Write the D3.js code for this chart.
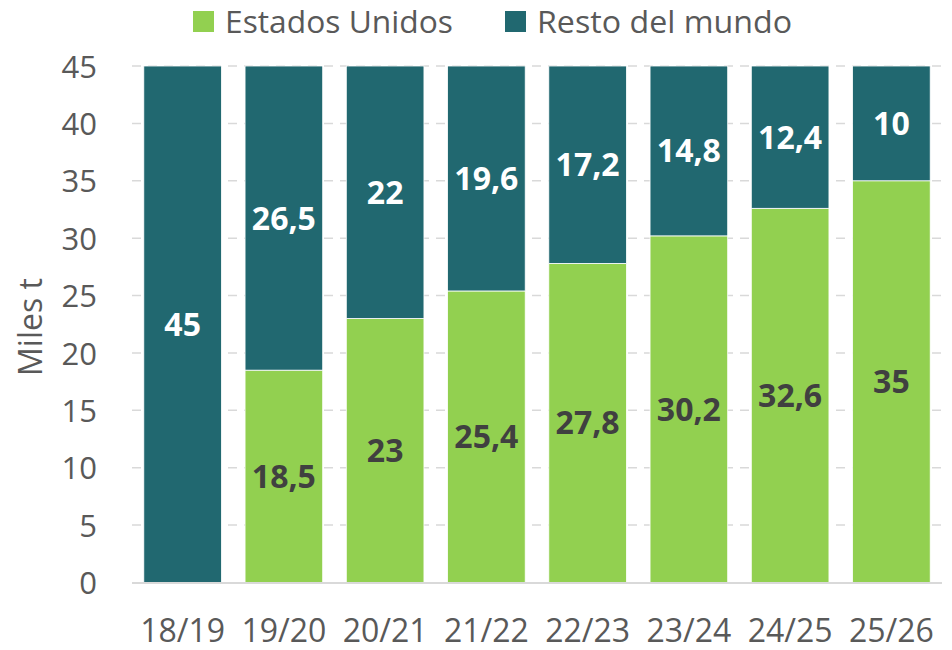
<!DOCTYPE html>
<html>
<head>
<meta charset="utf-8">
<script src="https://cdn.jsdelivr.net/npm/d3@7"></script>
<style>
  html, body { margin: 0; padding: 0; background: #ffffff; }
  svg { display: block; font-family: "Open Sans", Lato, sans-serif; }
</style>
</head>
<body>
<svg id="chart" width="952" height="650"></svg>
<script>
// Campaigns and volumes (thousand tonnes)
const campaigns = ["18/19", "19/20", "20/21", "21/22", "22/23", "23/24", "24/25", "25/26"];
const estadosUnidos = [0, 18.5, 23, 25.4, 27.8, 30.2, 32.6, 35];
const restoMundo = [45, 26.5, 22, 19.6, 17.2, 14.8, 12.4, 10];
const yTicks = [0, 5, 10, 15, 20, 25, 30, 35, 40, 45];
const seriesKeys = ["us", "rest"];
const seriesNames = ["Estados Unidos", "Resto del mundo"];
const seriesColors = ["#92d050", "#216870"];
const labelColors = ["#404040", "#ffffff"];

const fmt = v => String(v).replace(".", ",");

const svg = d3.select("#chart");
const plot = { left: 132, right: 942, top: 66, bottom: 582.5 };
const fontFamily = "'Open Sans', Lato, sans-serif";

const x = d3.scaleBand()
  .domain(campaigns)
  .range([plot.left, plot.right])
  .paddingInner(0.233)
  .paddingOuter(0.1165);

const y = d3.scaleLinear()
  .domain([0, 45])
  .range([plot.bottom, plot.top]);

// Dashed horizontal gridlines
svg.append("g")
  .selectAll("line")
  .data(yTicks.filter(t => t > 0))
  .join("line")
  .attr("x1", plot.left)
  .attr("x2", plot.right)
  .attr("y1", d => y(d))
  .attr("y2", d => y(d))
  .attr("stroke", "#d9d9d9")
  .attr("stroke-width", 1.5)
  .attr("stroke-dasharray", "9,7");

// Stacked data
const rows = campaigns.map((c, i) => ({ campaign: c, us: estadosUnidos[i], rest: restoMundo[i] }));
const stack = d3.stack().keys(seriesKeys)(rows);

const layers = svg.append("g")
  .selectAll("g")
  .data(stack)
  .join("g")
  .attr("fill", (d, i) => seriesColors[i]);

layers.selectAll("rect")
  .data(d => d)
  .join("rect")
  .attr("x", d => x(d.data.campaign))
  .attr("width", x.bandwidth())
  .attr("y", d => y(d[1]))
  .attr("height", d => y(d[0]) - y(d[1]))
  .attr("stroke", "#ffffff")
  .attr("stroke-width", 0.8);

// Baseline
svg.append("line")
  .attr("x1", plot.left)
  .attr("x2", plot.right)
  .attr("y1", y(0) + 0.5)
  .attr("y2", y(0) + 0.5)
  .attr("stroke", "#d9d9d9")
  .attr("stroke-width", 2);

// Value labels centred in each segment
stack.forEach((layer, i) => {
  const key = seriesKeys[i];
  svg.append("g")
    .selectAll("text")
    .data(layer.filter(d => d.data[key] > 0))
    .join("text")
    .attr("x", d => x(d.data.campaign) + x.bandwidth() / 2)
    .attr("y", d => (y(d[0]) + y(d[1])) / 2)
    .attr("dy", "0.36em")
    .attr("text-anchor", "middle")
    .attr("font-family", fontFamily)
    .attr("font-size", 32)
    .attr("font-weight", 700)
    .attr("fill", labelColors[i])
    .text(d => fmt(d.data[key]));
});

// Y axis
const yAxis = svg.append("g")
  .attr("transform", `translate(${plot.left},0)`)
  .call(d3.axisLeft(y).tickValues(yTicks).tickSize(0).tickPadding(35));
yAxis.select(".domain").remove();
yAxis.selectAll("text")
  .attr("font-family", fontFamily)
  .attr("font-size", 31)
  .attr("fill", "#595959")
  .attr("dy", "0.36em");

// X axis
const xAxis = svg.append("g")
  .attr("transform", `translate(0,${plot.bottom})`)
  .call(d3.axisBottom(x).tickSize(0).tickPadding(0));
xAxis.select(".domain").remove();
xAxis.selectAll("text")
  .attr("font-family", fontFamily)
  .attr("font-size", 32)
  .attr("fill", "#595959")
  .attr("dy", null)
  .attr("y", 59);

// Axis title
svg.append("text")
  .attr("transform", "translate(42,327) rotate(-90)")
  .attr("text-anchor", "middle")
  .attr("font-family", fontFamily)
  .attr("font-size", 32)
  .attr("fill", "#595959")
  .text("Miles t");

// Legend
const legendX = [193, 505];
const legend = svg.append("g")
  .selectAll("g")
  .data(seriesNames)
  .join("g")
  .attr("transform", (d, i) => `translate(${legendX[i]},11)`);
legend.append("rect")
  .attr("width", 21)
  .attr("height", 21)
  .attr("fill", (d, i) => seriesColors[i]);
legend.append("text")
  .attr("x", 32)
  .attr("y", 21.5)
  .attr("font-family", fontFamily)
  .attr("font-size", 30.5)
  .attr("textLength", d => d === seriesNames[0] ? 228 : 255)
  .attr("lengthAdjust", "spacingAndGlyphs")
  .attr("fill", "#595959")
  .text(d => d);
</script>
</body>
</html>
